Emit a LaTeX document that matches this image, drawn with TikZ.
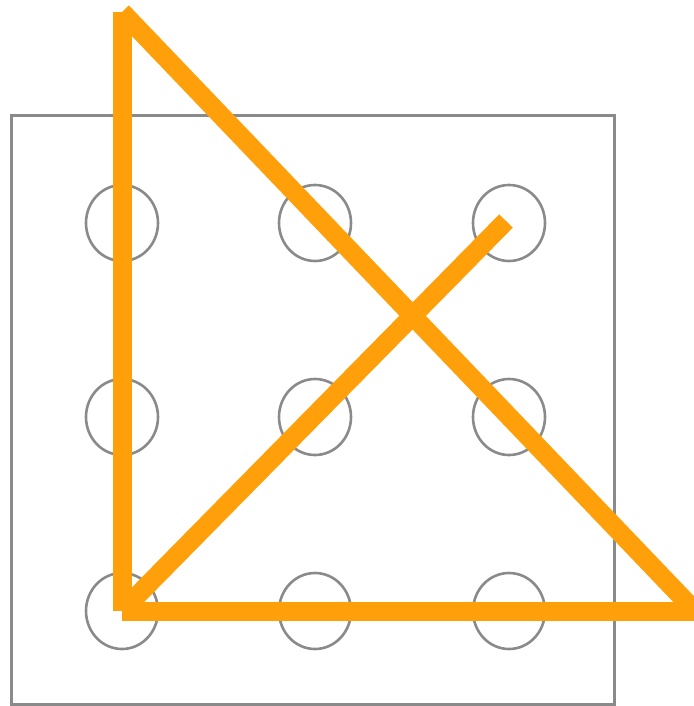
\documentclass[tikz,border=0pt]{standalone}
\usetikzlibrary{shapes.geometric}
\definecolor{frame}{HTML}{8A8A8A}
\definecolor{pen}{HTML}{FFA00A}
\begin{document}
\begin{tikzpicture}[x=1pt,y=-1pt,
  dot/.style={ellipse,draw=frame,line width=2.6pt,minimum width=72pt,minimum height=76pt,inner sep=0pt},
  stroke/.style={draw=pen,line width=19pt,line cap=butt}]
\useasboundingbox (0,0) rectangle (693,706);
\node[draw=frame,line width=3pt,minimum width=603pt,minimum height=588pt,inner sep=0pt] (box) at (313,410) {};
\foreach \c/\x in {a/122,b/315,c/509}{
  \foreach \r/\y in {1/223,2/417,3/611}{
    \node[dot] (\c\r) at (\x,\y) {};
  }
}
\coordinate (top) at (122,12);
\coordinate (corner) at (122,611);
\coordinate (right) at (695,611);
\coordinate (end) at (506,221);
\draw[stroke] (top) -- (corner);
\draw[stroke] (corner) -- (right);
\draw[stroke] (top) -- (right);
\draw[stroke] (corner) -- (end);
\end{tikzpicture}
\end{document}
